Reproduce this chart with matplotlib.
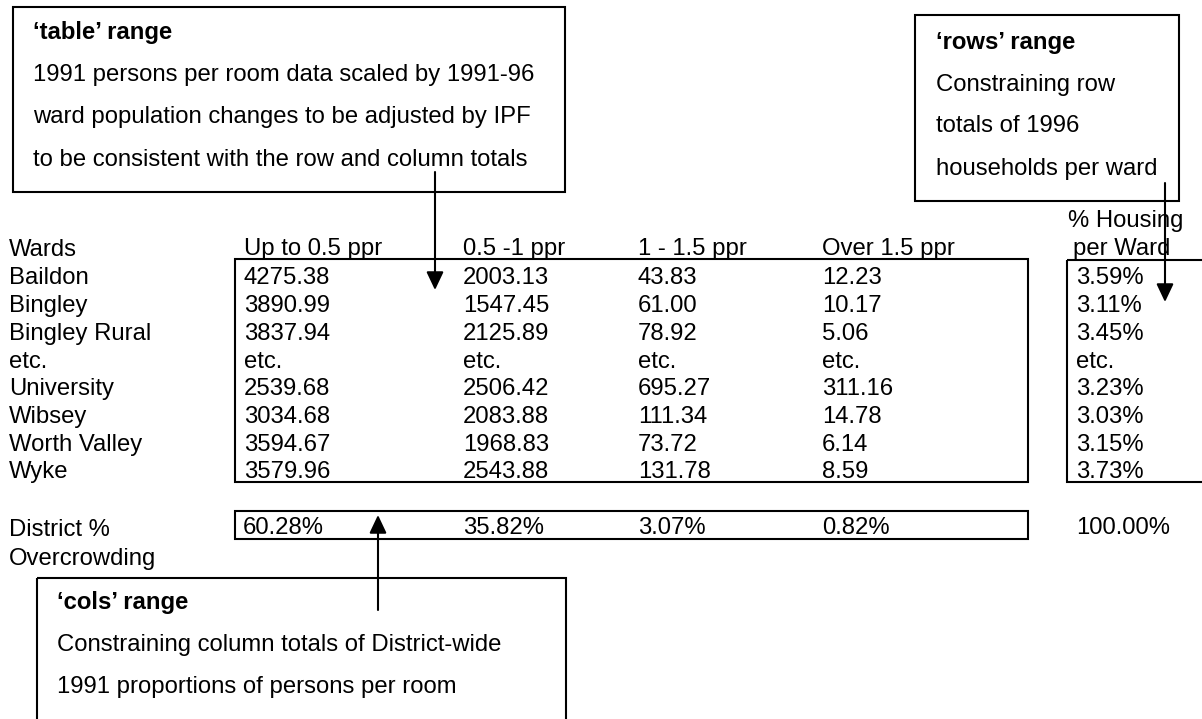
import matplotlib
matplotlib.use("Agg")
import matplotlib.pyplot as plt
from matplotlib.patches import Rectangle

# ---------------- data ----------------
wards = ["Baildon", "Bingley", "Bingley Rural", "etc.", "University",
         "Wibsey", "Worth Valley", "Wyke"]
col_headers = ["Up to 0.5 ppr", "0.5 -1 ppr", "1 - 1.5 ppr", "Over 1.5 ppr"]
up_to_05 = [4275.38, 3890.99, 3837.94, None, 2539.68, 3034.68, 3594.67, 3579.96]
p05_1 = [2003.13, 1547.45, 2125.89, None, 2506.42, 2083.88, 1968.83, 2543.88]
p1_15 = [43.83, 61.00, 78.92, None, 695.27, 111.34, 73.72, 131.78]
over_15 = [12.23, 10.17, 5.06, None, 311.16, 14.78, 6.14, 8.59]
housing_pct = [3.59, 3.11, 3.45, None, 3.23, 3.03, 3.15, 3.73]
district_pct = [60.28, 35.82, 3.07, 0.82]
district_total = 100.00

table_note = ["\u2018table\u2019 range",
              "1991 persons per room data scaled by 1991-96",
              "ward population changes to be adjusted by IPF",
              "to be consistent with the row and column totals"]
rows_note = ["\u2018rows\u2019 range", "Constraining row", "totals of 1996",
             "households per ward"]
cols_note = ["\u2018cols\u2019 range",
             "Constraining column totals of District-wide",
             "1991 proportions of persons per room"]

# ---------------- layout ----------------
W, H = 1202, 719
fig = plt.figure(figsize=(W / 100, H / 100), dpi=100)
ax = fig.add_axes([0, 0, 1, 1])
ax.set_xlim(0, W)
ax.set_ylim(H, 0)
ax.axis("off")

FONT = "Liberation Sans"
FS = 17.2
LW = 1.5
BASE = 8.5  # centre -> baseline offset (px)


def txt(x, yc, s, bold=False):
    ax.text(x, yc + BASE, s, fontsize=FS, family=FONT,
            fontweight="bold" if bold else "normal",
            ha="left", va="baseline", color="black")


def box(x0, y0, x1, y1):
    ax.add_patch(Rectangle((x0, y0), x1 - x0, y1 - y0, fill=False,
                           edgecolor="black", lw=LW, clip_on=False))


def arrow(x, y_from, y_to):
    ax.annotate("", xy=(x, y_to), xytext=(x, y_from),
                arrowprops=dict(arrowstyle="-|>,head_length=1.1,head_width=0.52",
                                lw=LW, color="black", shrinkA=0, shrinkB=0))


def fmt(v, pct=False):
    if v is None:
        return "etc."
    return f"{v:.2f}%" if pct else f"{v:.2f}"


# note boxes
box(13, 7, 565, 192)
for i, line in enumerate(table_note):
    txt(33, 31 + i * 42, line, bold=(i == 0))

box(915, 15, 1179, 201)
for i, line in enumerate(rows_note):
    txt(936, 40 + i * 42, line, bold=(i == 0))

box(37, 578, 566, 740)
for i, line in enumerate(cols_note):
    txt(57, 601 + i * 42, line, bold=(i == 0))

# header
header_y = 247
col_x = [244, 463, 638, 822]
txt(9, header_y, "Wards")
for cx, h in zip(col_x, col_headers):
    txt(cx, header_y, h)
txt(1068, 218, "% Housing")
txt(1073, header_y, "per Ward")

# table body
row0, dy = 276, 27.7
box(235, 259, 1028, 482)
box(1067, 260, 1215, 482)
cols = [up_to_05, p05_1, p1_15, over_15]
for r, ward in enumerate(wards):
    y = row0 + r * dy
    txt(9, y, ward)
    for cx, col in zip(col_x, cols):
        txt(cx, y, fmt(col[r]))
    txt(1076, y, fmt(housing_pct[r], pct=True))

# district row
dist_y = 526
box(235, 511, 1028, 539)
txt(9, dist_y + 2, "District %")
txt(9, dist_y + 30, "Overcrowding")
for cx, v in zip(col_x, district_pct):
    txt(cx - (1 if cx == 244 else 0), dist_y, fmt(v, pct=True))
txt(1076, dist_y, fmt(district_total, pct=True))

# arrows
arrow(435, 172, 290)
arrow(1165, 183, 302)
arrow(378, 610, 515)

fig.savefig("out.png", dpi=100)
